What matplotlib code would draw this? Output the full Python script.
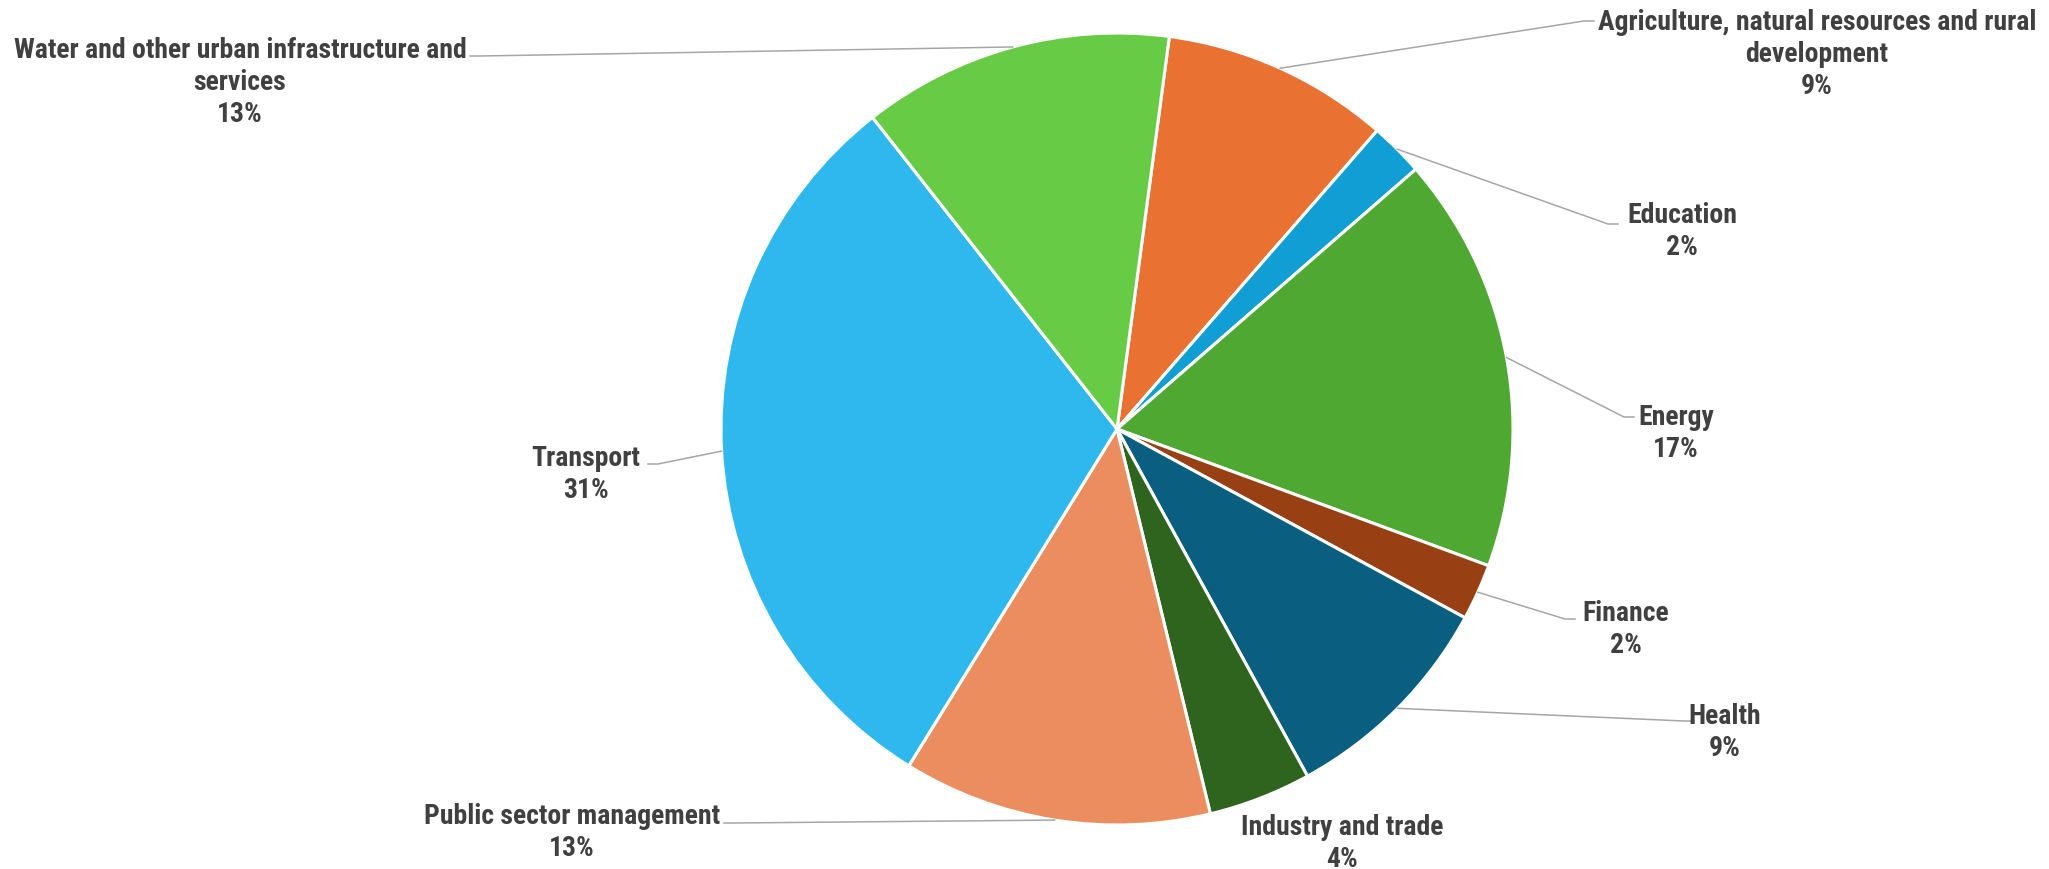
import matplotlib.pyplot as plt
import numpy as np
from matplotlib import font_manager

categories = ['Agriculture, natural resources and rural\ndevelopment', 'Education', 'Energy',
              'Finance', 'Health', 'Industry and trade', 'Public sector management',
              'Transport', 'Water and other urban infrastructure and\nservices']
shares = [9.3, 2.2, 17.0, 2.3, 9.1, 4.2, 12.6, 30.6, 12.7]
colors = ['#E97233', '#109ED5', '#4FA831', '#983F13', '#0A5F80', '#2F641E',
          '#EC8D5F', '#2EB8EE', '#68CB45']

# label layout in pixels (y measured from top): text centre x, first line y,
# leader hook end x, hook y, hook direction (+1 text on right, -1 text on left)
label_x = [1817, 1682, 1676, 1626, 1725, 1342, 572, 586, 240]
label_y = [22, 215, 417, 613, 716, 827, 816, 458, 50]
hook_x = [1594, 1618, 1634, 1575, 1694, None, 724, 648, 470]
hook_y = [22, 225, 418, 620, 722, None, 824, 465, 57]
hook_dir = [1, 1, 1, 1, 1, 0, -1, -1, -1]

W, H = 2049, 870
cx, cy, r = 1117, 430, 396

font = 'DejaVu Sans'
for f in ['Liberation Sans Narrow', 'Arial Narrow', 'Roboto Condensed']:
    try:
        font_manager.findfont(f, fallback_to_default=False)
        font = f
        break
    except Exception:
        pass

fig = plt.figure(figsize=(W / 100, H / 100), dpi=100)
ax = fig.add_axes([0, 0, 1, 1])

wedges, _ = ax.pie(shares, colors=colors, startangle=82.4, counterclock=False,
                   center=(cx, H - cy), radius=r,
                   wedgeprops=dict(edgecolor='white', linewidth=2.2))

ax.set_xlim(0, W)
ax.set_ylim(0, H)
ax.set_aspect('equal')
ax.axis('off')

total = sum(shares)
for i, w in enumerate(wedges):
    txt = categories[i] + '\n' + '%.0f%%' % (shares[i] / total * 100)
    ax.text(label_x[i], H - label_y[i] + 13, txt, ha='center', va='top',
            multialignment='center', fontsize=20, fontweight='bold',
            color='#404040', family=font, linespacing=1.25)
    if hook_x[i] is None:
        continue
    theta = np.radians((w.theta1 + w.theta2) / 2)
    x0 = cx + r * np.cos(theta)
    y0 = H - cy + r * np.sin(theta)
    ex, ey = hook_x[i], H - hook_y[i]
    ax.plot([x0, ex - 10 * hook_dir[i], ex], [y0, ey, ey], color='#A6A6A6', lw=1.1)

fig.savefig('out.png', dpi=100)
